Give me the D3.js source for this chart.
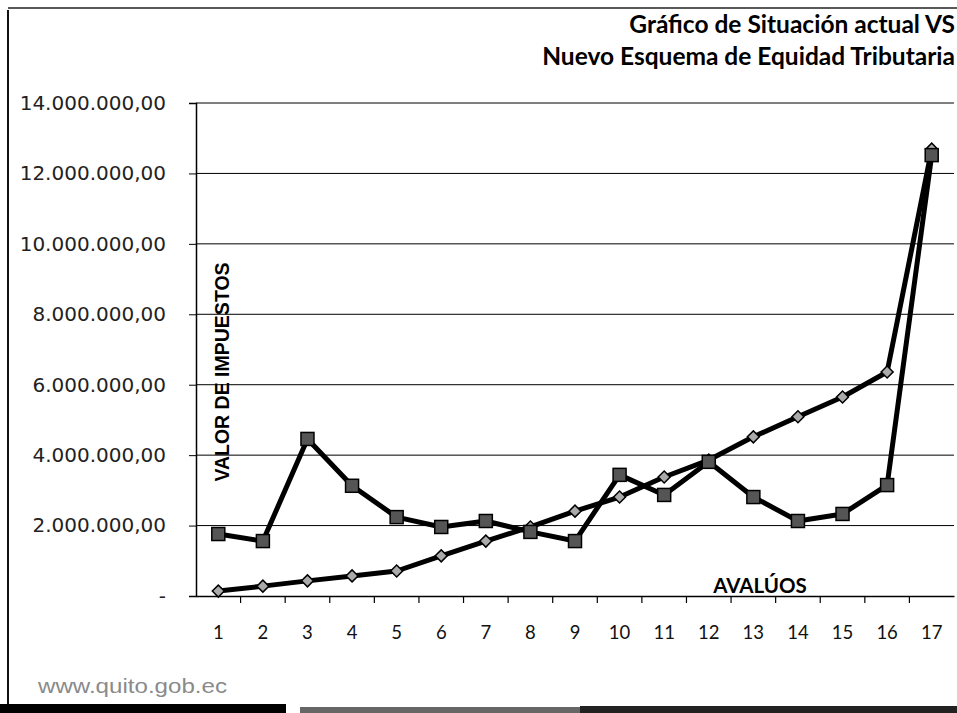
<!DOCTYPE html>
<html><head><meta charset="utf-8">
<script src="https://cdn.jsdelivr.net/npm/d3@7"></script>
<style>html,body{margin:0;padding:0;background:#fff;}svg{display:block;}</style>
</head><body>
<svg id="c" width="957" height="713"></svg>
<script>
const categories = ["1","2","3","4","5","6","7","8","9","10","11","12","13","14","15","16","17"];
const situacionActual = [1760000,1560000,4460000,3130000,2240000,1960000,2130000,1820000,1560000,3440000,2870000,3810000,2810000,2130000,2330000,3150000,12520000];
const nuevoEsquema = [140000,280000,430000,570000,710000,1140000,1560000,1960000,2410000,2810000,3380000,3860000,4520000,5090000,5650000,6360000,12690000];
const yTicks = [0,2000000,4000000,6000000,8000000,10000000,12000000,14000000];
const titleLines = ["Gráfico de Situación actual VS","Nuevo Esquema de Equidad Tributaria"];
const yTitle = "VALOR DE IMPUESTOS";
const xTitle = "AVALÚOS";
const watermark = "www.quito.gob.ec";

const svg = d3.select("#c");
const L = 196, R = 954, T = 103, B = 596;
const x = d3.scaleBand().domain(categories).range([L, R]);
const y = d3.scaleLinear().domain([0, 14000000]).range([B, T]);
const fmt = v => v === 0 ? "-" : d3.formatLocale({decimal:",",thousands:".",grouping:[3]}).format(",.2f")(v);

// frame
svg.append("line").attr("x1",8).attr("x2",8).attr("y1",10).attr("y2",713).attr("stroke","#111").attr("stroke-width",2);
svg.append("line").attr("x1",8).attr("x2",957).attr("y1",8).attr("y2",8).attr("stroke","#222").attr("stroke-width",1.5);
svg.append("rect").attr("x",0).attr("y",704).attr("width",286).attr("height",9).attr("fill","#000");
svg.append("rect").attr("x",300).attr("y",707).attr("width",280).attr("height",6).attr("fill","#666");
svg.append("rect").attr("x",580).attr("y",706).attr("width",377).attr("height",7).attr("fill","#222");

// title
const tt = svg.append("text").attr("font-family","Lato, sans-serif").attr("font-weight","bold").attr("font-size",24.5).attr("fill","#000").attr("text-anchor","end");
tt.append("tspan").attr("x",955).attr("y",33).text(titleLines[0]);
tt.append("tspan").attr("x",955).attr("y",65).text(titleLines[1]);

// gridlines
svg.append("g").selectAll("line").data(yTicks.filter(d=>d>0)).join("line")
  .attr("x1",L).attr("x2",R).attr("y1",d=>y(d)).attr("y2",d=>y(d)).attr("stroke","#000").attr("stroke-width",1);

// y axis
const ya = svg.append("g").attr("transform",`translate(${L},0)`)
  .call(d3.axisLeft(y).tickValues(yTicks).tickFormat(fmt).tickSize(7).tickPadding(23));
ya.select(".domain").attr("stroke","#000").attr("stroke-width",1.5);
ya.selectAll("text").attr("font-family","DejaVu Sans, sans-serif").attr("font-size",20).attr("fill","#222");

// x axis
const xa = svg.append("g").attr("transform",`translate(0,${B})`)
  .call(d3.axisBottom(x).tickSize(0).tickPadding(30));
xa.select(".domain").attr("stroke","#000").attr("stroke-width",1.5);
xa.selectAll("text").attr("font-family","Lato, sans-serif").attr("font-size",18.5).attr("fill","#111");
svg.append("g").selectAll("line").data(categories.slice(1)).join("line")
  .attr("x1",d=>x(d)).attr("x2",d=>x(d)).attr("y1",B).attr("y2",B+7).attr("stroke","#000").attr("stroke-width",1.2);

// axis titles
svg.append("text").attr("transform",`translate(229,${372}) rotate(-90)`).attr("text-anchor","middle")
  .attr("font-family","Liberation Sans, Arial, sans-serif").attr("font-weight","bold").attr("font-size",19.5).attr("fill","#000").text(yTitle);
svg.append("text").attr("x",760).attr("y",593).attr("text-anchor","middle")
  .attr("font-family","Lato, sans-serif").attr("font-weight","bold").attr("font-size",20.5).attr("fill","#000").text(xTitle);

// watermark
svg.append("text").attr("x",38).attr("y",693).attr("font-family","Liberation Sans, Arial, sans-serif").attr("font-size",21)
  .attr("textLength",189).attr("lengthAdjust","spacingAndGlyphs").attr("fill","#8a8a8a").text(watermark);

// lines
const cx = d => x(d) + x.bandwidth()/2;
const line = d3.line().x((d,i)=>cx(categories[i])).y(d=>y(d));
svg.append("path").datum(nuevoEsquema).attr("d",line).attr("fill","none").attr("stroke","#000").attr("stroke-width",5).attr("stroke-linejoin","round");
svg.append("path").datum(situacionActual).attr("d",line).attr("fill","none").attr("stroke","#000").attr("stroke-width",5).attr("stroke-linejoin","round");

// markers
svg.append("g").selectAll("path").data(nuevoEsquema).join("path")
  .attr("d",d3.symbol(d3.symbolSquare, 72))
  .attr("transform",(d,i)=>`translate(${cx(categories[i])},${y(d)}) rotate(45)`)
  .attr("fill","#aaa").attr("stroke","#000").attr("stroke-width",1.5);
svg.append("g").selectAll("rect").data(situacionActual).join("rect")
  .attr("x",(d,i)=>cx(categories[i])-6.5).attr("y",d=>y(d)-6.5).attr("width",13).attr("height",13)
  .attr("fill","#555").attr("stroke","#000").attr("stroke-width",1.5);
</script>
</body></html>
